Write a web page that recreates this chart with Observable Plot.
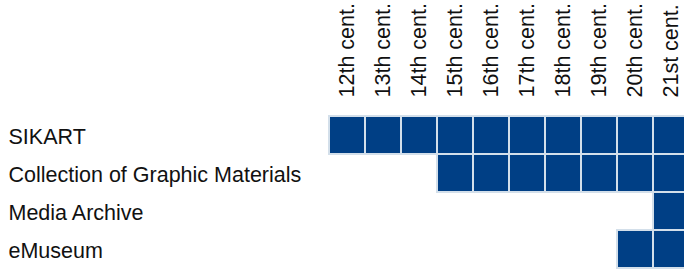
<!DOCTYPE html>
<html>
<head>
<meta charset="utf-8">
<script src="https://cdn.jsdelivr.net/npm/d3@7"></script>
<script src="https://cdn.jsdelivr.net/npm/@observablehq/plot@0.6"></script>
<style>
  html, body { margin: 0; padding: 0; background: #fff; overflow: hidden; }
</style>
</head>
<body>
<div id="chart"></div>
<script>
const centuries = ["12th cent.", "13th cent.", "14th cent.", "15th cent.", "16th cent.", "17th cent.", "18th cent.", "19th cent.", "20th cent.", "21st cent."];
const archives = ["SIKART", "Collection of Graphic Materials", "Media Archive", "eMuseum"];
const sikart = ["12th cent.", "13th cent.", "14th cent.", "15th cent.", "16th cent.", "17th cent.", "18th cent.", "19th cent.", "20th cent.", "21st cent."];
const graphicMaterials = ["15th cent.", "16th cent.", "17th cent.", "18th cent.", "19th cent.", "20th cent.", "21st cent."];
const mediaArchive = ["21st cent."];
const eMuseum = ["20th cent.", "21st cent."];

const coverage = [sikart, graphicMaterials, mediaArchive, eMuseum];
const cells = archives.flatMap((a, i) => coverage[i].map(c => ({archive: a, century: c})));

const chart = Plot.plot({
  width: 692,
  height: 273,
  marginLeft: 326,
  marginRight: 0,
  marginTop: 116,
  marginBottom: 5,
  style: {fontFamily: "'Liberation Sans', Arial, sans-serif", fontSize: "21.5px", color: "#111", background: "#fff", maxWidth: "none"},
  x: {domain: centuries, padding: 0, axis: null},
  y: {domain: archives, padding: 0, axis: null},
  marks: [
    Plot.cell(cells, {x: "century", y: "archive", fill: "#003f85", stroke: "#d3dfea", strokeWidth: 2}),
    Plot.axisX({anchor: "top", label: null, tickSize: 0, tickPadding: 19, tickRotate: -90, fontSize: 21.5, fill: "#111"}),
    Plot.axisY({anchor: "left", label: null, tickSize: 0, tickPadding: 0, textAnchor: "start", dx: -318, dy: 2, fontSize: 21.5, fill: "#111"})
  ]
});
chart.style.maxWidth = "none";
document.getElementById("chart").appendChild(chart);
</script>
</body>
</html>
